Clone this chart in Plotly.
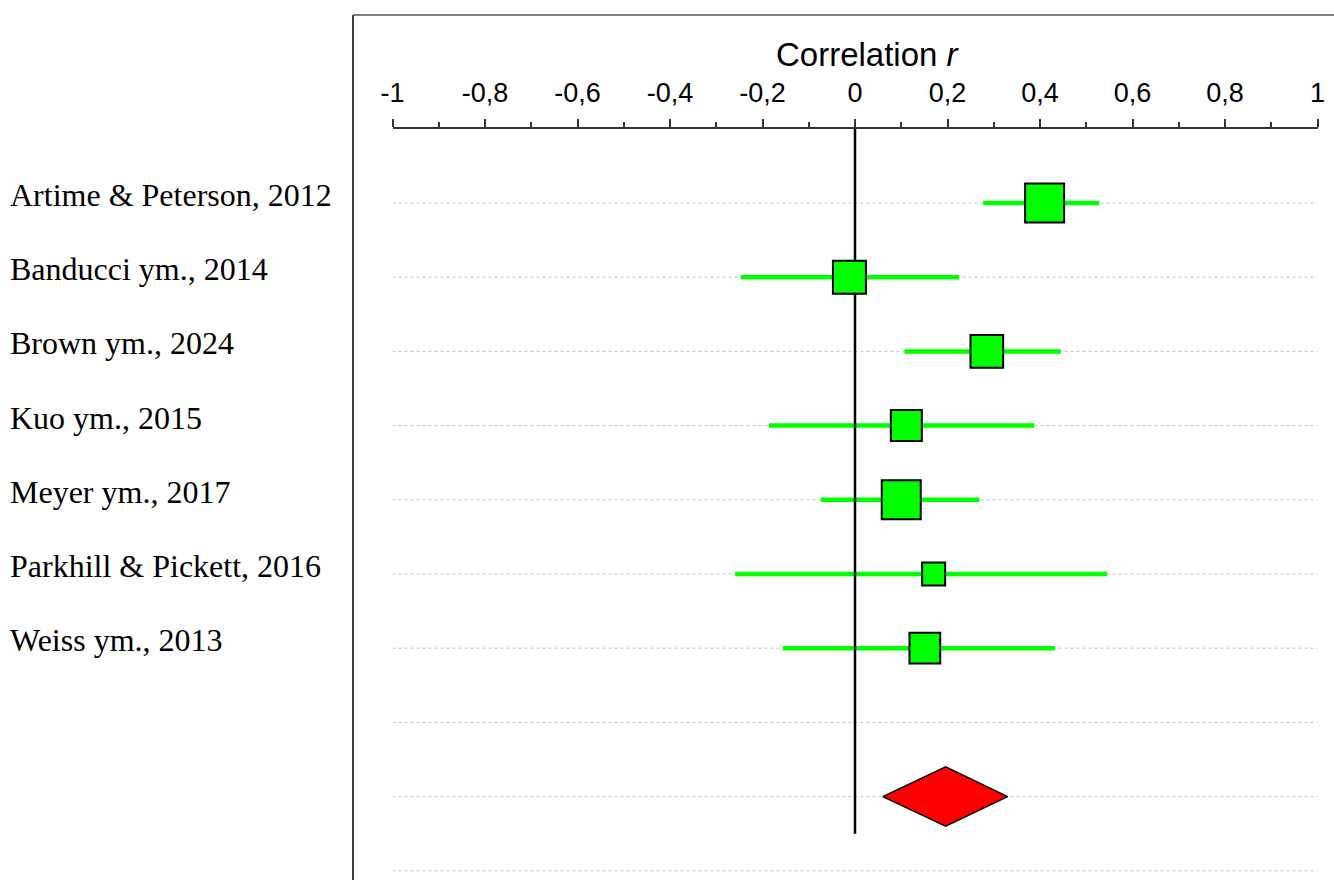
import plotly.graph_objects as go

# ---- data ----
studies = [
    "Artime & Peterson, 2012",
    "Banducci ym., 2014",
    "Brown ym., 2024",
    "Kuo ym., 2015",
    "Meyer ym., 2017",
    "Parkhill & Pickett, 2016",
    "Weiss ym., 2013",
]
r_values = [0.410, -0.012, 0.285, 0.111, 0.100, 0.170, 0.151]
ci_low = [0.277, -0.247, 0.107, -0.186, -0.074, -0.259, -0.156]
ci_high = [0.528, 0.225, 0.445, 0.388, 0.269, 0.545, 0.432]
weights = [19.6, 14.3, 14.0, 12.7, 19.6, 7.3, 12.5]  # relative study weights (%)

pooled_r = 0.196
pooled_low = 0.060
pooled_high = 0.330

tick_values = [-1, -0.8, -0.6, -0.4, -0.2, 0, 0.2, 0.4, 0.6, 0.8, 1]
tick_labels = ["-1", "-0,8", "-0,6", "-0,4", "-0,2", "0", "0,2", "0,4", "0,6", "0,8", "1"]
axis_title = "Correlation&nbsp;<i>r</i>"

# ---- layout geometry ----
W, H = 1334, 880
ML, MT = 353, 15
plot_w = W - ML
plot_h = H - MT
px_m1, px_p1 = 392.5, 1317.5          # pixel of r=-1 and r=1
row0_px, row_step = 203.0, 74.2        # pixel of first row and spacing
axis_px = 128.0

n_rows = len(studies) + 3              # studies, blank, pooled, blank
pooled_row = len(studies) + 1

y_top = (MT - row0_px) / row_step
y_bot = (H - row0_px) / row_step
x_domain = [(px_m1 - ML) / plot_w, (px_p1 - ML) / plot_w]
axis_pos = (H - axis_px) / plot_h

rows = list(range(len(studies)))

fig = go.Figure()

# dotted row guide lines
gx, gy = [], []
for k in range(n_rows):
    gx += [-1, 1, None]
    gy += [k, k, None]
fig.add_trace(go.Scatter(x=gx, y=gy, mode="lines",
                         line=dict(color="#c4c4c4", width=1, dash="dot"),
                         hoverinfo="skip", showlegend=False))

# confidence interval lines
cx, cy = [], []
for k, lo, hi in zip(rows, ci_low, ci_high):
    cx += [lo, hi, None]
    cy += [k, k, None]
fig.add_trace(go.Scatter(x=cx, y=cy, mode="lines",
                         line=dict(color="#00ff00", width=4.5),
                         hoverinfo="skip", showlegend=False))

# zero reference line
fig.add_trace(go.Scatter(x=[0, 0], y=[(axis_px - row0_px) / row_step, pooled_row + 0.5],
                         mode="lines", line=dict(color="black", width=2.5),
                         hoverinfo="skip", showlegend=False))

# study squares
max_w = max(weights)
sizes = [41 * (w / max_w) ** 0.5 - 2 for w in weights]
fig.add_trace(go.Scatter(x=r_values, y=rows, mode="markers",
                         marker=dict(symbol="square", size=sizes, color="#00ff00",
                                     opacity=1,
                                     line=dict(color="black", width=2)),
                         text=studies, hoverinfo="text+x", showlegend=False))

# pooled diamond
h = 0.4
fig.add_trace(go.Scatter(
    x=[pooled_low, pooled_r, pooled_high, pooled_r, pooled_low],
    y=[pooled_row, pooled_row - h, pooled_row, pooled_row + h, pooled_row],
    mode="lines", fill="toself", fillcolor="#ff0000",
    line=dict(color="black", width=1.5), hoverinfo="skip", showlegend=False))

# study labels
for k, name in zip(rows, studies):
    fig.add_annotation(x=(8 - ML) / plot_w, xref="paper", y=k, yref="y",
                       text=name, showarrow=False, xanchor="left", yanchor="middle",
                       yshift=8,
                       font=dict(family="Liberation Serif, Times New Roman, serif",
                                 size=32, color="black"))

# axis title
fig.add_annotation(x=(774 - ML) / plot_w, xref="paper", y=(H - 54) / plot_h, yref="paper",
                   text=axis_title, showarrow=False, xanchor="left", yanchor="middle",
                   font=dict(family="Liberation Sans, Arial, sans-serif", size=33, color="black"))

# frame (left and top)
fig.add_shape(type="line", xref="paper", yref="paper", x0=0, x1=0, y0=0, y1=1,
              line=dict(color="#404040", width=2))
fig.add_shape(type="line", xref="paper", yref="paper", x0=0, x1=1, y0=1, y1=1,
              line=dict(color="#555555", width=1.5))

fig.update_layout(
    width=W, height=H, autosize=False,
    margin=dict(l=ML, r=0, t=MT, b=0, pad=0, autoexpand=False),
    paper_bgcolor="white", plot_bgcolor="white",
    xaxis=dict(
        domain=x_domain, range=[-1, 1], autorange=False, automargin=False,
        anchor="free", position=axis_pos, side="top",
        showgrid=False, zeroline=False,
        showline=True, linecolor="#333333", linewidth=1.5,
        tickmode="array", tickvals=tick_values, ticktext=tick_labels,
        ticks="outside", ticklen=8, tickwidth=1.5, tickcolor="#333333",
        ticklabelstandoff=6,
        tickfont=dict(family="Liberation Sans, Arial, sans-serif", size=27, color="black"),
        minor=dict(tickmode="linear", tick0=-1, dtick=0.1, ticks="outside",
                   ticklen=5, tickwidth=1.5, tickcolor="#333333", showgrid=False),
    ),
    yaxis=dict(range=[y_bot, y_top], autorange=False, automargin=False,
               showgrid=False, zeroline=False,
               showline=False, showticklabels=False, ticks=""),
)

fig.write_html("out.html", config={"displayModeBar": False, "responsive": False},
               post_script="document.body.style.margin='0';document.body.style.overflow='hidden';")
